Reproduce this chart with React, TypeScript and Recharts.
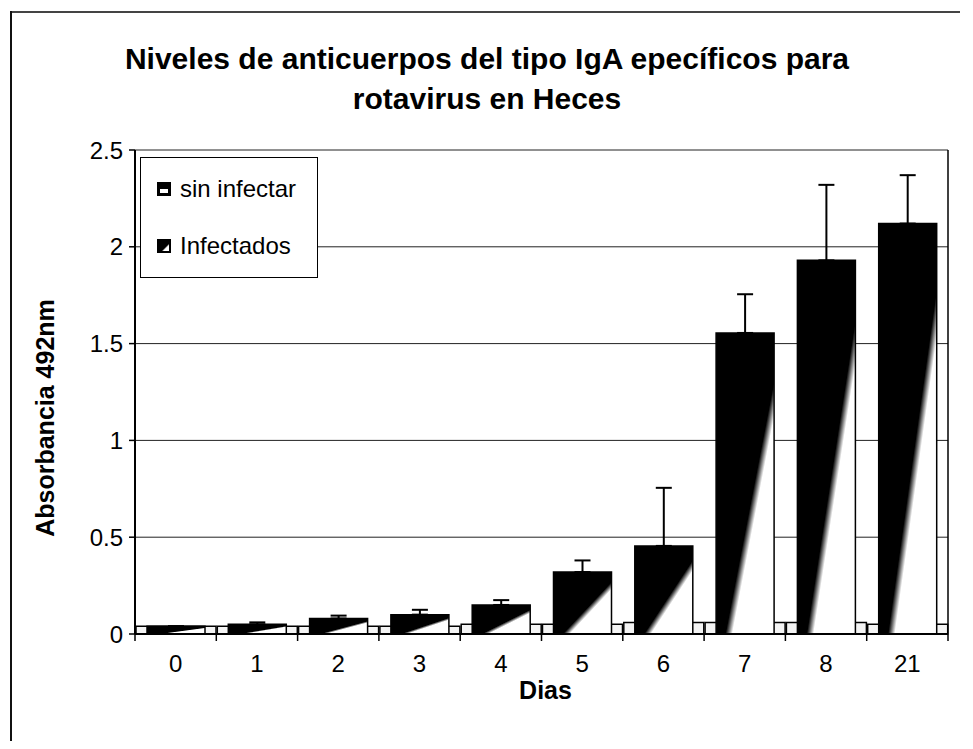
import React from 'react';
import { BarChart, Bar, XAxis, YAxis, CartesianGrid, ErrorBar, Legend, Label } from 'recharts';

const FONT = '"Liberation Sans", Arial, Helvetica, sans-serif';

const categories = ['0', '1', '2', '3', '4', '5', '6', '7', '8', '21'];
const sinInfectar = [0.04, 0.04, 0.04, 0.04, 0.05, 0.05, 0.06, 0.06, 0.06, 0.05];
const infectados = [0.04, 0.05, 0.08, 0.1, 0.15, 0.32, 0.455, 1.555, 1.93, 2.12];
const infectadosErr = [0, 0.01, 0.015, 0.025, 0.025, 0.06, 0.3, 0.2, 0.39, 0.25];
const yTicks = [0, 0.5, 1, 1.5, 2, 2.5];
const legendOrder = ['sin', 'inf'];

const data = categories.map((dia, i) => ({
  dia,
  sin: sinInfectar[i],
  inf: infectados[i],
  infErr: [0, infectadosErr[i]],
}));

function DayTick(props: any) {
  const { x, y, payload, index, visibleTicksCount } = props;
  const half = payload && typeof payload.offset === 'number' && payload.offset > 0 ? payload.offset : 40.65;
  const axisY = y - 8;
  return (
    <g>
      <line x1={x - half} x2={x - half} y1={axisY} y2={axisY + 7} stroke="#000" strokeWidth={1.5} />
      {index === visibleTicksCount - 1 ? (
        <line x1={x + half} x2={x + half} y1={axisY} y2={axisY + 7} stroke="#000" strokeWidth={1.5} />
      ) : null}
      <text x={x} y={y} dy={30} textAnchor="middle" fontSize={24} fontFamily={FONT} fill="#000">
        {payload.value}
      </text>
    </g>
  );
}

function LegendBox(props: any) {
  const payload = [...(props.payload || [])].sort(
    (a: any, b: any) => legendOrder.indexOf(a.dataKey) - legendOrder.indexOf(b.dataKey)
  );
  return (
    <div
      style={{
        width: 178,
        height: 121,
        border: '1.5px solid #000',
        boxSizing: 'border-box',
        background: '#fff',
        fontFamily: FONT,
        fontSize: 24,
        color: '#000',
        position: 'relative',
      }}
    >
      {payload.map((p: any, i: number) => (
        <div
          key={String(p.value)}
          style={{
            position: 'absolute',
            left: 16,
            top: 17 + i * 57,
            display: 'flex',
            alignItems: 'center',
            whiteSpace: 'nowrap',
            lineHeight: '28px',
          }}
        >
          <svg width={14} height={14} style={{ marginRight: 9 }}>
            <defs>
              <linearGradient id={'lg' + i} x1="0" y1="0" x2="1" y2="1">
                <stop offset="0" stopColor="#000" />
                <stop offset="0.6" stopColor="#000" />
                <stop offset="0.68" stopColor="#fff" />
                <stop offset="1" stopColor="#fff" />
              </linearGradient>
            </defs>
            {p.dataKey === 'inf' ? (
              <rect x={1} y={1} width={12} height={12} fill={'url(#lg' + i + ')'} stroke="#000" strokeWidth={2} />
            ) : (
              <g>
                <rect x={1} y={1} width={12} height={12} fill="#000" stroke="#000" strokeWidth={2} />
                <rect x={3} y={7} width={8} height={4} fill="#fff" />
              </g>
            )}
          </svg>
          <span>{p.value}</span>
        </div>
      ))}
    </div>
  );
}

function YLabel(props: any) {
  const vb = props.viewBox || { x: 0, y: 0, width: 127, height: 484 };
  const cx = vb.x + 37;
  const cy = vb.y + vb.height / 2 + 26;
  return (
    <text
      x={cx}
      y={cy}
      transform={`rotate(-90 ${cx} ${cy})`}
      textAnchor="middle"
      dominantBaseline="central"
      fontSize={25}
      fontWeight="bold"
      fontFamily={FONT}
      fill="#000"
    >
      Absorbancia 492nm
    </text>
  );
}

function XLabel(props: any) {
  const vb = props.viewBox || { x: 127, y: 626, width: 813, height: 40 };
  const cx = vb.x + vb.width / 2 + 4;
  const cy = vb.y + vb.height + 16;
  return (
    <text x={cx} y={cy} textAnchor="middle" dominantBaseline="central" fontSize={25} fontWeight="bold" fontFamily={FONT} fill="#000">
      Dias
    </text>
  );
}

export default function App() {
  return (
    <div style={{ position: 'relative', width: 957, height: 733 }}>
      <div style={{ position: 'absolute', left: 2, top: 3, width: 950, height: 2, background: '#444', pointerEvents: 'none' }} />
      <div style={{ position: 'absolute', left: 2, top: 3, width: 2, height: 730, background: '#111', pointerEvents: 'none' }} />
      <div
        style={{
          position: 'absolute',
          left: 0,
          top: 31,
          width: 958,
          textAlign: 'center',
          fontFamily: FONT,
          fontWeight: 'bold',
          fontSize: 30,
          lineHeight: '40px',
          color: '#000',
          zIndex: 2,
          pointerEvents: 'none',
        }}
      >
        Niveles de anticuerpos del tipo IgA epecíficos para
        <br />
        rotavirus en Heces
      </div>
      <BarChart
        width={957}
        height={733}
        data={data}
        margin={{ top: 142, right: 16, left: 0, bottom: 67 }}
      >
        <defs>
          <linearGradient id="gradInf" x1="0" y1="0" x2="1" y2="1">
            <stop offset="0" stopColor="#000" />
            <stop offset="0.58" stopColor="#000" />
            <stop offset="0.64" stopColor="#fff" />
            <stop offset="1" stopColor="#fff" />
          </linearGradient>
        </defs>
        <CartesianGrid xAxisId="a" vertical={false} stroke="#222" strokeWidth={1} />
        <XAxis
          xAxisId="a"
          dataKey="dia"
          height={40}
          tickLine={false}
          axisLine={{ stroke: '#000', strokeWidth: 2 }}
          tick={<DayTick />}
          interval={0}
        >
          <Label content={<XLabel />} />
        </XAxis>
        <XAxis xAxisId="w" dataKey="dia" hide />
        <YAxis
          width={127}
          domain={[0, 2.5]}
          ticks={yTicks}
          interval={0}
          tickSize={6}
          tickMargin={6}
          tickLine={{ stroke: '#000', strokeWidth: 1.5 }}
          axisLine={{ stroke: '#000', strokeWidth: 2 }}
          tick={{ fontSize: 24, fontFamily: FONT, fill: '#000' }}
        >
          <Label content={<YLabel />} />
        </YAxis>
        <YAxis
          yAxisId="r"
          orientation="right"
          width={1}
          domain={[0, 2.5]}
          tick={false}
          tickLine={false}
          axisLine={{ stroke: '#000', strokeWidth: 1.5 }}
        />
        <Legend
          layout="vertical"
          align="center"
          verticalAlign="middle"
          content={<LegendBox />}
          wrapperStyle={{ left: 132, top: 149, width: 178, height: 121 }}
        />
        <Bar
          xAxisId="w"
          dataKey="sin"
          name="sin infectar"
          fill="#f4f4f4"
          stroke="#000"
          strokeWidth={1.5}
          barSize={80}
          isAnimationActive={false}
        />
        <Bar
          xAxisId="a"
          dataKey="inf"
          name="Infectados"
          fill="url(#gradInf)"
          stroke="#000"
          strokeWidth={1.5}
          barSize={58}
          isAnimationActive={false}
        >
          <ErrorBar dataKey="infErr" direction="y" width={8} stroke="#000" strokeWidth={2} />
        </Bar>
      </BarChart>
    </div>
  );
}
